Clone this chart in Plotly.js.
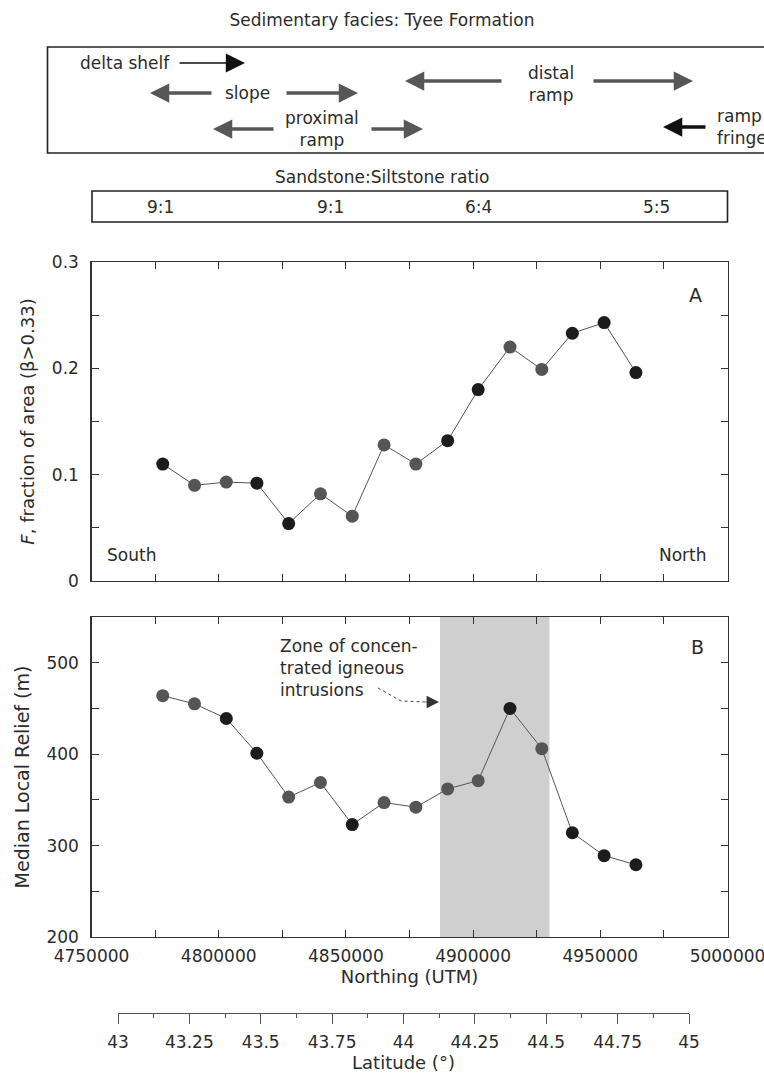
<!DOCTYPE html>
<html>
<head>
<meta charset="utf-8">
<script src="https://cdn.plot.ly/plotly-3.0.1.min.js"></script>
<style>html,body{margin:0;padding:0;background:#fff;}#chart{width:764px;height:1076px;}</style>
</head>
<body>
<div id="chart"></div>
<script>
// ---------------- data ----------------
const northing = [4778000, 4790500, 4803000, 4815000, 4827500, 4840000, 4852500, 4865000,
                  4877500, 4890000, 4902000, 4914500, 4927000, 4939000, 4951500, 4964000];
const fractionF = [0.110, 0.090, 0.093, 0.092, 0.054, 0.082, 0.061, 0.128,
                   0.110, 0.132, 0.180, 0.220, 0.199, 0.233, 0.243, 0.196];
const reliefM = [464, 455, 439, 401, 353, 369, 323, 347,
                 342, 362, 371, 450, 406, 314, 289, 279];
const intrusionZone = [4887000, 4930000];
const latitudeRange = [43, 45];
const ratioLabels = ['9:1', '9:1', '6:4', '5:5'];
const faciesLabels = ['delta shelf', 'slope', 'distal<br>ramp', 'proximal<br>ramp', 'ramp<br>fringe'];

// ---------------- styles (not data) ----------------
const DARK = '#1c1c1c', GRAY = '#555555';
const shadeA = [DARK, GRAY, GRAY, DARK, DARK, GRAY, GRAY, GRAY, GRAY, DARK, DARK, GRAY, GRAY, DARK, DARK, DARK];
const shadeB = [GRAY, GRAY, DARK, DARK, GRAY, GRAY, DARK, GRAY, GRAY, GRAY, GRAY, DARK, GRAY, DARK, DARK, DARK];
const FONT = 'DejaVu Sans, Liberation Sans, Arial, sans-serif';
const TXT = '#2b2b2b';
const W = 764, H = 1076;
const fx = p => p / W;
const fy = p => 1 - p / H;

const traces = [
  {x: northing, y: fractionF, xaxis: 'x', yaxis: 'y', type: 'scatter', mode: 'lines+markers',
   line: {color: '#555', width: 1}, marker: {size: 13, color: shadeA}, hoverinfo: 'skip'},
  {x: northing, y: reliefM, xaxis: 'x2', yaxis: 'y2', type: 'scatter', mode: 'lines+markers',
   line: {color: '#555', width: 1}, marker: {size: 13, color: shadeB}, hoverinfo: 'skip'},
  {x: latitudeRange, y: [0, 0], xaxis: 'x3', yaxis: 'y3', type: 'scatter', mode: 'markers',
   marker: {opacity: 0}, hoverinfo: 'skip'}
];

const xBase = {
  range: [4750000, 5000000], domain: [fx(91.5), fx(727.5)], tick0: 4750000, dtick: 50000,
  ticks: 'inside', ticklen: 7, tickwidth: 1, tickcolor: '#333',
  minor: {dtick: 25000, ticks: 'inside', ticklen: 7, tickcolor: '#333'},
  showline: true, mirror: 'ticks', linecolor: '#333', linewidth: 1.2,
  showgrid: false, zeroline: false, tickfont: {family: FONT, size: 17, color: TXT}
};
const yBase = {
  ticks: 'inside', ticklen: 7, tickwidth: 1, tickcolor: '#333',
  showline: true, mirror: 'ticks', linecolor: '#333', linewidth: 1.2,
  showgrid: false, zeroline: false, tickfont: {family: FONT, size: 17, color: TXT},
  ticklabelstandoff: 8
};

function arrow(hx, hy, tx, ty, color, width, size) {
  return {xref: 'paper', yref: 'paper', x: fx(hx), y: fy(hy), ax: tx - hx, ay: ty - hy,
          axref: 'pixel', ayref: 'pixel', text: '', showarrow: true, arrowhead: 2,
          arrowsize: size, arrowwidth: width, arrowcolor: color, standoff: 0, startstandoff: 0};
}
function label(text, px, py, size, align, anchor) {
  return {xref: 'paper', yref: 'paper', x: fx(px), y: fy(py), text: text, showarrow: false,
          xanchor: anchor || 'center', yanchor: 'middle', align: align || 'center',
          font: {family: FONT, size: size || 17, color: TXT}};
}

const ratioX = [160, 330, 479, 656];

const annotations = [
  label('Sandstone:Siltstone ratio', 382, 177, 17),
  ...ratioLabels.map((t, i) => label(t, ratioX[i], 207, 17)),
  label(faciesLabels[0], 172, 63, 17, 'right', 'right'),
  arrow(245, 63, 178, 63, '#111', 1.6, 2.4),
  label(faciesLabels[1], 247, 93, 17),
  arrow(150, 93, 213, 93, '#575757', 3.5, 1.1),
  arrow(358, 93, 285, 93, '#575757', 3.5, 1.1),
  label(faciesLabels[2], 551, 84, 17),
  arrow(405, 81, 503, 81, '#575757', 3.5, 1.1),
  arrow(693, 81, 592, 81, '#575757', 3.5, 1.1),
  label(faciesLabels[3], 322, 129, 17),
  arrow(213, 129, 275, 129, '#575757', 3.5, 1.1),
  arrow(423, 129, 370, 129, '#575757', 3.5, 1.1),
  label(faciesLabels[4], 715, 127, 17, 'left', 'left'),
  arrow(663, 127, 707, 127, '#111', 3.5, 1.1),
  label('A', 695, 295, 19),
  label('B', 697, 647, 19),
  label('South', 105, 555, 17, 'left', 'left'),
  label('North', 709, 555, 17, 'right', 'right'),
  {xref: 'paper', yref: 'paper', x: fx(278), y: fy(646), text: 'Zone of concen-<br>trated igneous<br>intrusions',
   showarrow: false, xanchor: 'left', yanchor: 'top', align: 'left', yshift: 12,
   font: {family: FONT, size: 17, color: TXT}},
  arrow(439, 702, 425, 702, '#333', 1.3, 1.9)
];

const shapes = [
  {type: 'rect', xref: 'x2', yref: 'y2 domain', x0: intrusionZone[0], x1: intrusionZone[1], y0: 0, y1: 1,
   fillcolor: '#cfcfcf', line: {width: 0}, layer: 'below'},
  {type: 'rect', xref: 'paper', yref: 'paper', x0: fx(47.5), x1: 1.05, y0: fy(153), y1: fy(47),
   line: {color: '#222', width: 1.6}},
  {type: 'rect', xref: 'paper', yref: 'paper', x0: fx(92), x1: fx(727.5), y0: fy(222), y1: fy(191),
   line: {color: '#222', width: 1.6}},
  {type: 'path', xref: 'paper', yref: 'paper',
   path: `M ${fx(378)} ${fy(688)} L ${fx(401)} ${fy(701)} L ${fx(426)} ${fy(702)}`,
   line: {color: '#444', width: 1, dash: 'dot'}}
];

const layout = {
  width: W, height: H,
  margin: {l: 0, r: 0, t: 0, b: 0},
  paper_bgcolor: '#fff', plot_bgcolor: 'rgba(0,0,0,0)',
  showlegend: false,
  font: {family: FONT, size: 17, color: TXT},
  title: {text: 'Sedimentary facies: Tyee Formation', x: 0.5, xanchor: 'center',
          y: 1 - 20 / H, yref: 'container', yanchor: 'middle',
          font: {family: FONT, size: 17, color: TXT}},
  xaxis: Object.assign({}, xBase, {anchor: 'y', showticklabels: false}),
  xaxis2: Object.assign({}, xBase, {anchor: 'y2', tickformat: 'd', ticklabeloverflow: 'allow',
          ticklabelstandoff: 3,
          title: {text: 'Northing (UTM)', standoff: 4, font: {family: FONT, size: 18, color: TXT}}}),
  yaxis: Object.assign({}, yBase, {anchor: 'x', domain: [fy(581), fy(262)], range: [0, 0.3],
          tick0: 0, dtick: 0.1, minor: {dtick: 0.05, ticks: 'inside', ticklen: 7, tickcolor: '#333'},
          title: {text: '<i>F</i>, fraction of area (β>0.33)', standoff: 12,
                  font: {family: FONT, size: 18, color: TXT}}}),
  yaxis2: Object.assign({}, yBase, {anchor: 'x2', domain: [fy(937), fy(617)], range: [200, 550],
          tick0: 200, dtick: 100, minor: {dtick: 50, ticks: 'inside', ticklen: 7, tickcolor: '#333'},
          title: {text: 'Median Local Relief (m)', standoff: 11,
                  font: {family: FONT, size: 19, color: TXT}}}),
  xaxis3: {anchor: 'y3', domain: [fx(118), fx(689)], range: latitudeRange, tick0: 43, dtick: 0.25,
           ticks: 'outside', ticklen: 10, tickwidth: 1, tickcolor: '#555',
           minor: {dtick: 0.125, ticks: 'outside', ticklen: 4, tickcolor: '#555'},
           showline: true, linecolor: '#555', linewidth: 1, showgrid: false, zeroline: false,
           ticklabelstandoff: 4,
           tickfont: {family: FONT, size: 17, color: TXT},
           title: {text: 'Latitude (°)', standoff: 4, font: {family: FONT, size: 18, color: TXT}}},
  yaxis3: {anchor: 'x3', domain: [fy(1013), fy(1012)], range: [0, 1], visible: false, fixedrange: true},
  annotations: annotations,
  shapes: shapes
};

Plotly.newPlot('chart', traces, layout, {displayModeBar: false, staticPlot: true});
</script>
</body>
</html>
